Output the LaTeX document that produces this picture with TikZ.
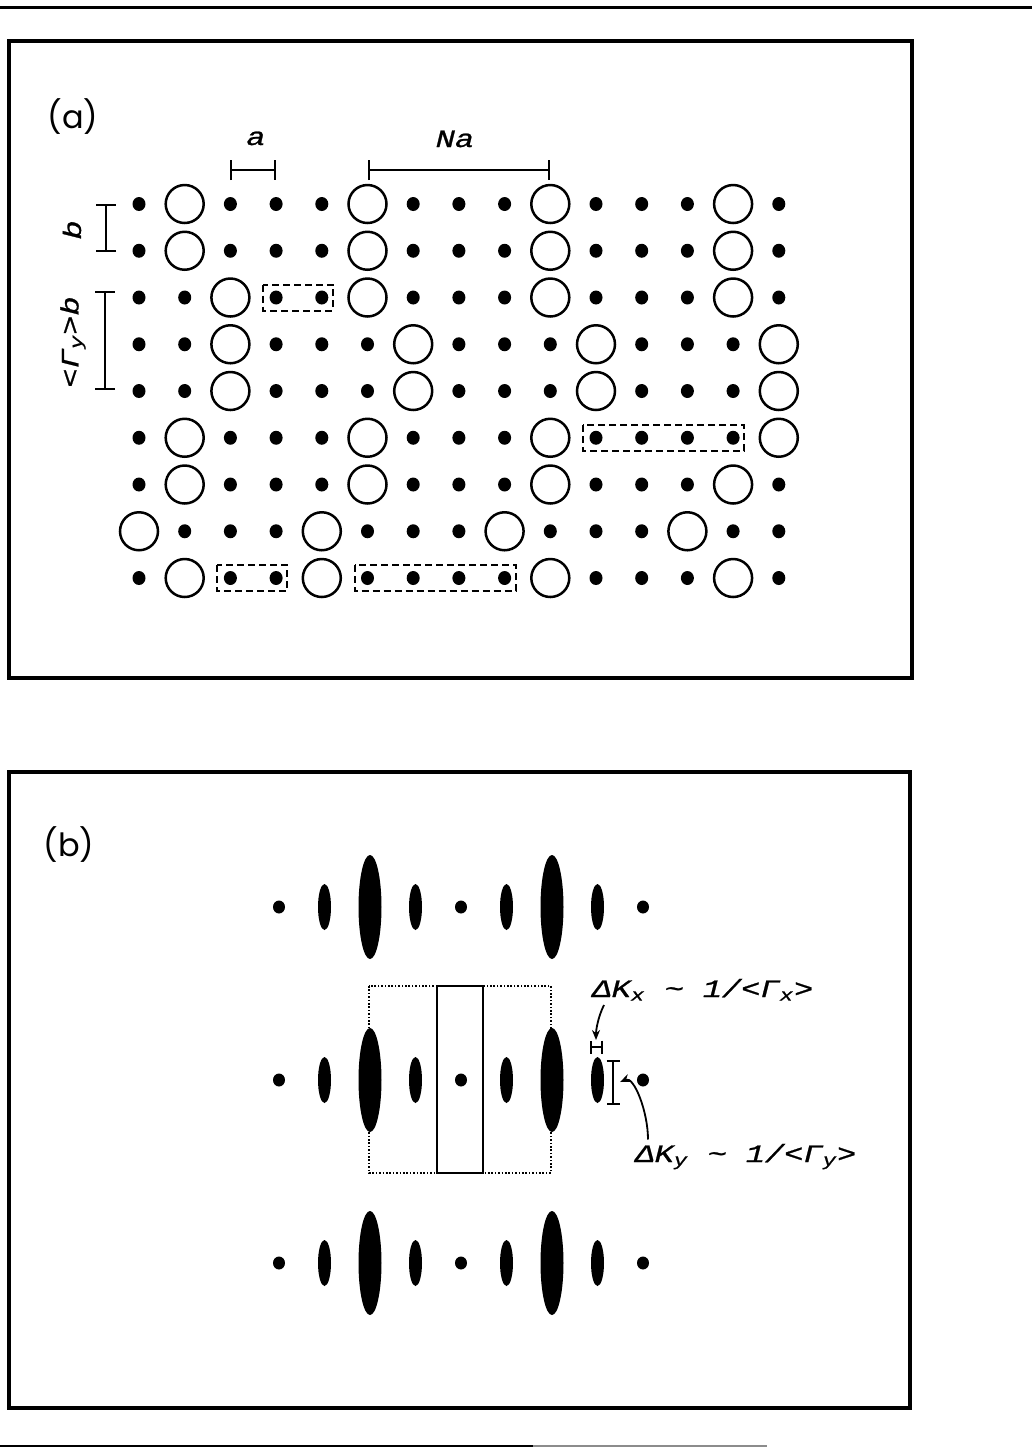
\documentclass[tikz,border=0pt]{standalone}
\usepackage{fontspec}
\setmainfont{Liberation Serif}
\newfontfamily\lblfont[FakeStretch=1.28,FakeBold=1]{Liberation Mono}
\newfontfamily\panelfont{Poppins}
\usepackage{tikz}
\usetikzlibrary{
    positioning,
    arrows.meta,
    calc
}

\begin{document}
\begin{tikzpicture}[x=0.5pt, y=-0.5pt,
    frame/.style={line width=1.8pt},
    ring/.style={line width=1.25pt},
    cellbox/.style={dash pattern=on 3.5pt off 2pt, line width=1pt},
    dimline/.style={line width=1pt, arrows={Bar[width=10pt]-Bar[width=10pt]}},
    smalldim/.style={line width=0.9pt, arrows={Bar[width=6.5pt]-Bar[width=6.5pt]}},
    zone/.style={dash pattern=on 0.8pt off 0.9pt, line width=0.9pt},
    arr/.style={arrows={-Stealth[length=5pt,width=4pt]}, line width=0.9pt},
    lbl/.style={font=\lblfont\itshape\fontsize{12.5}{14}\selectfont, inner sep=0pt},
    tag/.style={font=\panelfont\fontsize{16}{18}\selectfont, inner sep=0pt}]

    \useasboundingbox (0,0) rectangle (1032,1448);

    % page rules
    \draw[line width=1.5pt] (0,7) -- (1032,7);
    \draw[line width=1pt] (0,1446) -- (533,1446);
    \draw[line width=1pt, black!45] (533,1446) -- (767,1446);

    % === (a): real-space lattice ===
    \draw[frame] (9,41) rectangle (912,678);
    \node[tag] (taga) at (73,117) {(a)};

    \foreach \pat [count=\j from 0] in {
        {d,O,d,d,d,O,d,d,d,O,d,d,d,O,d},
        {d,O,d,d,d,O,d,d,d,O,d,d,d,O,d},
        {d,d,O,d,d,O,d,d,d,O,d,d,d,O,d},
        {d,d,O,d,d,d,O,d,d,d,O,d,d,d,O},
        {d,d,O,d,d,d,O,d,d,d,O,d,d,d,O},
        {d,O,d,d,d,O,d,d,d,O,d,d,d,d,O},
        {d,O,d,d,d,O,d,d,d,O,d,d,d,O,d},
        {O,d,d,d,O,d,d,d,O,d,d,d,O,d,d},
        {d,O,d,d,O,d,d,d,d,O,d,d,d,O,d}}
    {
      \foreach \c [count=\i from 0] in \pat {
        \if\c O
          \draw[ring] ({139+45.7*\i},{204+46.75*\j}) circle [radius=19];
        \else
          \fill ({139+45.7*\i},{204+46.75*\j}) ellipse [x radius=6.5, y radius=7];
        \fi
      }
    }

    % dashed groups of adjacent sites
    \draw[cellbox] ({139+45.7*3-13},{204+46.75*2-13}) rectangle ({139+45.7*4+11},{204+46.75*2+13});
    \draw[cellbox] ({139+45.7*10-13},{204+46.75*5-13}) rectangle ({139+45.7*13+11},{204+46.75*5+13});
    \draw[cellbox] ({139+45.7*2-13},{204+46.75*8-13}) rectangle ({139+45.7*3+11},{204+46.75*8+13});
    \draw[cellbox] ({139+45.7*5-13},{204+46.75*8-13}) rectangle ({139+45.7*8+11},{204+46.75*8+13});

    % spacings
    \draw[dimline] ({139+45.7*2},170) -- ({139+45.7*3},170);
    \draw[dimline] ({139+45.7*5},170) -- ({139+45.7*9},170);
    \node[lbl, anchor=base] (alab) at (256,145) {a};
    \node[lbl, anchor=base] (nalab) at (455,147) {Na};

    \draw[dimline] (106,204) -- (106,252);
    \draw[dimline] (105,291) -- (105,390);
    \node[lbl, rotate=90] (blab) at (72,230) {b};
    \node[lbl, rotate=90] (glab) at (73,342) {<Γ\textsubscript{y}>b};

    % === (b): diffraction pattern ===
    \draw[frame] (9,772) rectangle (910,1408);
    \node[tag] (tagb) at (69,845) {(b)};

    \draw[zone] (369,986) rectangle (551,1173);
    \draw[line width=1pt] (437,986) rectangle (483,1173);

    \foreach \yy in {907,1080,1263} {
      \foreach \k/\rx/\ry in {0/6/6.5, 1/6.5/23, 2/11.5/52, 3/6.5/23, 4/6/6.5,
                              5/6.5/23, 6/11.5/52, 7/6.5/23, 8/6/6.5}
        \fill ({279+45.5*\k},\yy) ellipse [x radius=\rx, y radius=\ry];
    }

    % widths of the spots
    \draw[smalldim] (590,1047) -- (603,1047);
    \draw[smalldim] (613,1060) -- (613,1105);
    \coordinate (kxbar) at (596,1040);
    \coordinate (kybar) at (620,1082);

    \node[lbl, anchor=base west] (kx) at (592,997)
      {ΔK\textsubscript{x} \textasciitilde{} 1/<Γ\textsubscript{x}>};
    \node[lbl, anchor=base west] (ky) at (635,1162)
      {ΔK\textsubscript{y} \textasciitilde{} 1/<Γ\textsubscript{y}>};

    \draw[arr] ([xshift=6pt,yshift=-2pt]kx.south west) .. controls +(-3pt,-6pt) and +(0,5pt) .. (kxbar);
    \draw[arr] ([xshift=6.5pt,yshift=2pt]ky.north west) .. controls +(0,14pt) and +(7pt,3pt) .. (kybar);

  \end{tikzpicture}
\end{document}
